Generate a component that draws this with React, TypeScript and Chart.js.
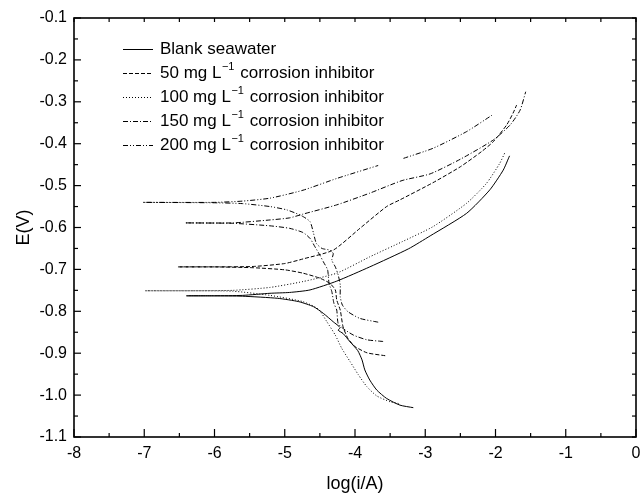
import { useEffect, useRef } from "react";
import { Chart, registerables } from "chart.js";

Chart.register(...registerables);

// ---- Axis ticks ----
const X_TICKS = [-8, -7, -6, -5, -4, -3, -2, -1, 0];
const Y_TICKS = [-1.1, -1.0, -0.9, -0.8, -0.7, -0.6, -0.5, -0.4, -0.3, -0.2, -0.1];

// ---- Series labels ----
const LABELS = [
  "Blank seawater",
  "50 mg L⁻¹ corrosion inhibitor",
  "100 mg L⁻¹ corrosion inhibitor",
  "150 mg L⁻¹ corrosion inhibitor",
  "200 mg L⁻¹ corrosion inhibitor",
];

// ---- Series values: [log(i/A), E(V)], cathodic tail -> Ecorr -> anodic end ----
const BLANK: [number, number | null][] = [
  [-3.17, -1.03], [-3.36, -1.024], [-3.55, -1.008], [-3.69, -0.988], [-3.79, -0.964],
  [-3.86, -0.94], [-3.9, -0.916], [-3.96, -0.894], [-4.07, -0.873], [-4.17, -0.853],
  [-4.24, -0.845], [-4.21, -0.839], [-4.31, -0.825], [-4.45, -0.805], [-4.59, -0.789],
  [-4.8, -0.777], [-5.1, -0.769], [-5.6, -0.764], [-6.0, -0.763], [-6.4, -0.763],
  [-6.0, -0.763], [-5.6, -0.762], [-5.21, -0.757], [-4.93, -0.755], [-4.64, -0.749],
  [-4.26, -0.728], [-3.79, -0.694], [-3.24, -0.651], [-2.93, -0.62], [-2.41, -0.566],
  [-2.08, -0.51], [-1.89, -0.463], [-1.8, -0.429],
];

const MG50: [number, number | null][] = [
  [-3.57, -0.906], [-3.83, -0.899], [-4.0, -0.884], [-4.1, -0.865], [-4.17, -0.837],
  [-4.21, -0.797], [-4.26, -0.773], [-4.28, -0.749], [-4.36, -0.733], [-4.5, -0.721],
  [-4.74, -0.709], [-5.0, -0.701], [-5.45, -0.696], [-6.0, -0.694], [-6.52, -0.694],
  [-6.0, -0.694], [-5.45, -0.693], [-5.0, -0.686], [-4.74, -0.675], [-4.31, -0.654],
  [-3.93, -0.602], [-3.55, -0.55], [-3.36, -0.534], [-2.89, -0.493], [-2.5, -0.455],
  [-2.2, -0.419], [-2.03, -0.395], [-1.84, -0.355], [-1.75, -0.327], [-1.7, -0.308],
];

const MG100: [number, number | null][] = [
  [-3.38, -1.02], [-3.5, -1.016], [-3.69, -1.002], [-3.83, -0.98], [-3.95, -0.952],
  [-4.07, -0.92], [-4.19, -0.888], [-4.28, -0.857], [-4.4, -0.825], [-4.52, -0.795],
  [-4.74, -0.777], [-5.21, -0.762], [-5.74, -0.752], [-6.3, -0.751], [-6.99, -0.751],
  [-6.3, -0.751], [-5.74, -0.75], [-5.21, -0.743], [-4.74, -0.729], [-4.26, -0.709],
  [-3.79, -0.67], [-3.33, -0.634], [-2.89, -0.598], [-2.41, -0.542], [-2.13, -0.495],
  [-1.94, -0.447], [-1.86, -0.419],
];

const MG150: [number, number | null][] = [
  [-3.6, -0.872], [-3.83, -0.868], [-4.02, -0.857], [-4.17, -0.841], [-4.24, -0.829],
  [-4.26, -0.797], [-4.3, -0.781], [-4.33, -0.753], [-4.37, -0.733], [-4.39, -0.701],
  [-4.45, -0.682], [-4.5, -0.666], [-4.57, -0.646], [-4.64, -0.626], [-4.74, -0.612],
  [-4.93, -0.602], [-5.21, -0.596], [-5.74, -0.59], [-6.42, -0.589],
  [-5.74, -0.589], [-5.21, -0.582], [-4.93, -0.577], [-4.74, -0.568], [-4.26, -0.546],
  [-3.79, -0.518], [-3.33, -0.488], [-2.93, -0.472], [-2.5, -0.437], [-2.03, -0.391],
  [-1.79, -0.355], [-1.65, -0.32], [-1.57, -0.276],
];

const MG200: [number, number | null][] = [
  [-3.67, -0.826], [-3.93, -0.817], [-4.1, -0.801], [-4.18, -0.785], [-4.21, -0.765],
  [-4.21, -0.737], [-4.24, -0.713], [-4.28, -0.694], [-4.33, -0.678], [-4.31, -0.662],
  [-4.36, -0.654], [-4.47, -0.65], [-4.55, -0.638], [-4.59, -0.614], [-4.64, -0.586],
  [-4.76, -0.572], [-4.97, -0.558], [-5.21, -0.55], [-5.6, -0.543], [-6.0, -0.541],
  [-7.02, -0.54],
  [-6.0, -0.54], [-5.6, -0.537], [-5.21, -0.53], [-4.74, -0.511], [-4.26, -0.483],
  [-3.67, -0.452], [-3.5, null], [-3.31, -0.435], [-2.89, -0.411], [-2.41, -0.371],
  [-2.05, -0.332],
];

const SERIES = [BLANK, MG50, MG100, MG150, MG200];
const DASHES: number[][] = [[], [4, 2], [1, 2], [5, 2, 1, 2], [5, 2, 1, 2, 1, 2]];

const FONT = "'Liberation Sans', Arial, Helvetica, sans-serif";

const framePlugin = {
  id: "frameTicks",
  afterDatasetsDraw(chart: any) {
    const { ctx, chartArea } = chart;
    const { left, right, top, bottom } = chartArea;
    const xs = chart.scales.x;
    const ys = chart.scales.y;
    ctx.save();
    ctx.strokeStyle = "#000";
    ctx.lineWidth = 1.6;
    ctx.setLineDash([]);
    ctx.strokeRect(left, top, right - left, bottom - top);
    ctx.lineWidth = 1.2;
    const seg = (x1: number, y1: number, x2: number, y2: number) => {
      ctx.beginPath();
      ctx.moveTo(x1, y1);
      ctx.lineTo(x2, y2);
      ctx.stroke();
    };
    X_TICKS.forEach((v, i) => {
      const p = xs.getPixelForValue(v);
      seg(p, bottom, p, bottom - 8);
      seg(p, top, p, top + 4);
      if (i < X_TICKS.length - 1) {
        const m = xs.getPixelForValue((v + X_TICKS[i + 1]) / 2);
        seg(m, bottom, m, bottom - 4);
        seg(m, top, m, top + 4);
      }
    });
    Y_TICKS.forEach((v, i) => {
      const p = ys.getPixelForValue(v);
      seg(left, p, left + 7, p);
      seg(right, p, right - 4, p);
      if (i < Y_TICKS.length - 1) {
        const m = ys.getPixelForValue((v + Y_TICKS[i + 1]) / 2);
        seg(left, m, left + 4, m);
        seg(right, m, right - 4, m);
      }
    });
    ctx.restore();
  },
};

const legendPlugin = {
  id: "innerLegend",
  afterDraw(chart: any) {
    const { ctx, chartArea } = chart;
    const x0 = chartArea.left + 49;
    const lineLen = 30;
    const textX = x0 + lineLen + 7;
    const y0 = chartArea.top + 31;
    const rowH = 24;
    ctx.save();
    LABELS.forEach((label, i) => {
      const y = y0 + i * rowH;
      ctx.strokeStyle = "#000";
      ctx.lineWidth = 1;
      ctx.setLineDash(DASHES[i]);
      ctx.beginPath();
      ctx.moveTo(x0, y + 0.5);
      ctx.lineTo(x0 + lineLen, y + 0.5);
      ctx.stroke();
      ctx.setLineDash([]);
      ctx.fillStyle = "#000";
      ctx.textBaseline = "middle";
      ctx.textAlign = "left";
      const parts = label.split("⁻¹");
      let x = textX;
      ctx.font = `17px ${FONT}`;
      ctx.fillText(parts[0], x, y);
      x += ctx.measureText(parts[0]).width;
      if (parts.length > 1) {
        ctx.font = `11px ${FONT}`;
        ctx.fillText("−1", x + 0.5, y - 6);
        x += ctx.measureText("−1").width + 1.5;
        ctx.font = `17px ${FONT}`;
        ctx.fillText(parts[1], x, y);
      }
    });
    ctx.restore();
  },
};

export default function App() {
  const ref = useRef<HTMLCanvasElement | null>(null);

  useEffect(() => {
    document.body.style.margin = "0";
    const canvas = ref.current;
    if (!canvas) return;
    Chart.defaults.font.family = FONT;
    Chart.defaults.color = "#000";

    const chart = new Chart(canvas, {
      type: "scatter",
      data: {
        datasets: SERIES.map((s, i) => ({
          label: LABELS[i],
          data: s.map(([x, y]) => ({ x, y })),
          showLine: true,
          borderColor: "#000",
          backgroundColor: "#000",
          borderWidth: 1,
          borderDash: DASHES[i],
          pointRadius: 0,
          pointHoverRadius: 0,
          tension: 0.2,
          spanGaps: false,
          fill: false,
        })),
      },
      plugins: [framePlugin, legendPlugin],
      options: {
        animation: false,
        responsive: false,
        maintainAspectRatio: false,
        events: [],
        layout: { padding: { left: 0, top: 18, right: 6, bottom: 0 } },
        plugins: {
          legend: { display: false },
          title: { display: false },
          tooltip: { enabled: false },
        },
        scales: {
          x: {
            type: "linear",
            min: -8,
            max: 0,
            border: { display: false },
            grid: { display: false, drawTicks: false },
            afterBuildTicks: (scale: any) => {
              scale.ticks = X_TICKS.map((v) => ({ value: v }));
            },
            afterFit: (scale: any) => {
              scale.height = 58;
              scale.paddingLeft = 0;
              scale.paddingRight = 0;
            },
            ticks: {
              font: { size: 16 },
              color: "#000",
              padding: 7,
              maxRotation: 0,
              autoSkip: false,
              callback: (v: any) => String(v),
            },
            title: {
              display: true,
              text: "log(i/A)",
              font: { size: 18 },
              color: "#000",
              padding: { top: 0, bottom: 0 },
            },
          },
          y: {
            type: "linear",
            min: -1.1,
            max: -0.1,
            border: { display: false },
            grid: { display: false, drawTicks: false },
            afterBuildTicks: (scale: any) => {
              scale.ticks = Y_TICKS.map((v) => ({ value: v }));
            },
            afterFit: (scale: any) => {
              scale.width = 74;
              scale.paddingTop = 0;
              scale.paddingBottom = 0;
            },
            ticks: {
              font: { size: 16 },
              color: "#000",
              padding: 7,
              autoSkip: false,
              callback: (v: any) => Number(v).toFixed(1),
            },
            title: {
              display: true,
              text: "E(V)",
              font: { size: 18 },
              color: "#000",
              padding: { top: 13, bottom: 0 },
            },
          },
        },
      },
    });
    return () => chart.destroy();
  }, []);

  return <canvas ref={ref} width={642} height={495} style={{ display: "block" }} />;
}
